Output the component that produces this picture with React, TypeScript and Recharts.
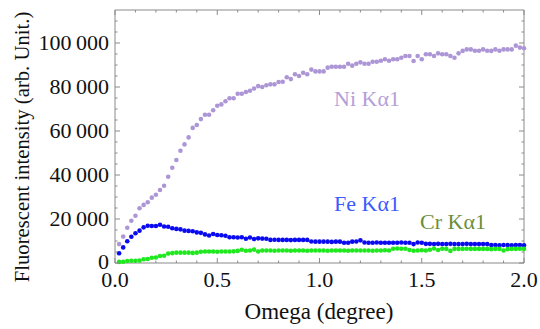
import { ScatterChart, Scatter, XAxis, YAxis } from 'recharts'

// sample positions (degree)
const omega = [
  0.02, 0.04, 0.06, 0.08, 0.1, 0.12, 0.14, 0.16, 0.18, 0.2,
  0.22, 0.24, 0.26, 0.28, 0.3, 0.32, 0.34, 0.36, 0.38, 0.4,
  0.42, 0.44, 0.46, 0.48, 0.5, 0.52, 0.54, 0.56, 0.58, 0.6,
  0.62, 0.64, 0.66, 0.68, 0.7, 0.72, 0.74, 0.76, 0.78, 0.8,
  0.82, 0.84, 0.86, 0.88, 0.9, 0.92, 0.94, 0.96, 0.98, 1.0,
  1.02, 1.04, 1.06, 1.08, 1.1, 1.12, 1.14, 1.16, 1.18, 1.2,
  1.22, 1.24, 1.26, 1.28, 1.3, 1.32, 1.34, 1.36, 1.38, 1.4,
  1.42, 1.44, 1.46, 1.48, 1.5, 1.52, 1.54, 1.56, 1.58, 1.6,
  1.62, 1.64, 1.66, 1.68, 1.7, 1.72, 1.74, 1.76, 1.78, 1.8,
  1.82, 1.84, 1.86, 1.88, 1.9, 1.92, 1.94, 1.96, 1.98, 2.0,
]

const niKa1 = [
  8600, 12000, 16000, 19200, 21500, 24900, 26400, 27600, 29700, 31000,
  33200, 35100, 39200, 43300, 46800, 51000, 53900, 57100, 61400, 62700,
  65400, 67400, 67400, 69400, 71500, 72100, 73500, 74900, 74900, 76900,
  76900, 77700, 78300, 79300, 80400, 80000, 80800, 81200, 81200, 82300,
  82400, 84400, 83600, 85800, 85000, 86500, 85800, 87900, 87100, 87100,
  87100, 88800, 89200, 89200, 89200, 89200, 90600, 89700, 90600, 91200,
  90600, 90600, 91500, 91500, 91900, 92600, 91900, 92600, 92600, 93300,
  94100, 94100, 91800, 94100, 92600, 94900, 94900, 94100, 95300, 94900,
  94900, 94100, 93300, 95300, 96400, 97100, 97100, 96500, 96500, 97100,
  96500, 96400, 97100, 96500, 97100, 97100, 97100, 98800, 97900, 97600,
]

const feKa1 = [
  4400, 7100, 9900, 11900, 13500, 14700, 16200, 16900, 16800, 16800,
  17400, 16600, 16500, 15800, 15500, 15300, 14700, 14600, 14400, 13900,
  13700, 13000, 12500, 13200, 12700, 12600, 12400, 11700, 11700, 11600,
  11700, 11000, 11600, 10900, 11200, 11100, 11000, 10500, 10600, 10500,
  10500, 10500, 10400, 10500, 10500, 10500, 10500, 9800, 9700, 9700,
  9700, 9700, 9600, 9700, 9700, 9200, 9200, 9700, 9800, 10300,
  9300, 9200, 9200, 9300, 9200, 9200, 9200, 9200, 9200, 9300,
  9200, 9200, 8600, 9300, 9200, 8700, 8700, 8600, 8700, 8600,
  8600, 8700, 8600, 8600, 8600, 8700, 8600, 8600, 8600, 8600,
  8600, 8200, 8200, 8100, 8200, 8200, 8100, 8200, 8200, 8100,
]

const crKa1 = [
  500, 600, 900, 1000, 1000, 1100, 1700, 1800, 2400, 2500,
  3200, 3300, 4300, 4500, 4700, 4700, 4700, 4700, 4600, 4700,
  5100, 5200, 5200, 5200, 5100, 5200, 5200, 5200, 5300, 5500,
  6000, 5600, 5700, 6100, 5200, 5700, 5700, 5700, 5600, 5700,
  5700, 5700, 5600, 5700, 5700, 5700, 5600, 5700, 5700, 5700,
  5700, 5600, 5700, 5700, 5700, 5700, 5600, 5700, 5700, 5700,
  5700, 5700, 5600, 5700, 5700, 5800, 5700, 6500, 6600, 6500,
  6500, 5900, 5600, 5700, 5800, 5700, 6000, 6600, 5900, 6500,
  6400, 5500, 6400, 6400, 6400, 6500, 6400, 6400, 6400, 6400,
  6400, 6300, 6400, 6400, 5700, 6300, 6400, 6400, 6500, 6400,
]

const xTicks = [0, 0.1, 0.2, 0.3, 0.4, 0.5, 0.6, 0.7, 0.8, 0.9, 1.0, 1.1, 1.2, 1.3, 1.4, 1.5, 1.6, 1.7, 1.8, 1.9, 2.0]
const xMajor = [0, 0.5, 1.0, 1.5, 2.0]
const yTicks = [
  0, 5000, 10000, 15000, 20000, 25000, 30000, 35000, 40000, 45000, 50000, 55000,
  60000, 65000, 70000, 75000, 80000, 85000, 90000, 95000, 100000, 105000, 110000,
]
const yMajor = [0, 20000, 40000, 60000, 80000, 100000]

const toPoints = (ys: number[]) => omega.map((x, i) => ({ x, y: ys[i] }))

const FONT = 'Liberation Serif, DejaVu Serif, serif'
const FRAME = '#8a8a8a'

const fmtY = (v: number) => (v === 0 ? '0' : `${Math.round(v / 1000)}\u2009000`)

function FrameTick({ x, y, payload, side }: any) {
  const v = payload.value
  const major = side === 'bottom' || side === 'top' ? xMajor.includes(v) : yMajor.includes(v)
  const len = major ? 5 : 2.5
  let line
  if (side === 'bottom') line = <line x1={x} x2={x} y1={y} y2={y - len} stroke={FRAME} />
  else if (side === 'top') line = <line x1={x} x2={x} y1={y} y2={y + len} stroke={FRAME} />
  else if (side === 'left') line = <line x1={x} x2={x + len} y1={y} y2={y} stroke={FRAME} />
  else line = <line x1={x} x2={x - len} y1={y} y2={y} stroke={FRAME} />
  return (
    <g>
      {line}
      {major && side === 'bottom' && (
        <text x={x} y={y + 24} textAnchor="middle" fontFamily={FONT} fontSize={22} fill="#111">{v.toFixed(1)}</text>
      )}
      {major && side === 'left' && (
        <text x={x - 6} y={y + (v === 0 ? 6 : 7)} textAnchor="end" fontFamily={FONT} fontSize={22} fill="#111">{fmtY(v)}</text>
      )}
    </g>
  )
}

const dot = (color: string) => (p: any) => <circle cx={p.cx} cy={p.cy} r={2.3} fill={color} />

export default function App() {
  return (
    <div style={{ position: 'absolute', left: 0, top: 0, width: 540, height: 329, background: '#fff' }}>
      <ScatterChart width={540} height={329} margin={{ top: 0, right: 0, bottom: 0, left: 0 }}>
        <XAxis xAxisId="b" type="number" dataKey="x" domain={[0, 2]} ticks={xTicks} interval={0}
          height={66} tickSize={0} tickMargin={0} tickLine={false} axisLine={{ stroke: FRAME }}
          tick={(p: any) => <FrameTick {...p} side="bottom" />} />
        <XAxis xAxisId="t" orientation="top" type="number" dataKey="x" domain={[0, 2]} ticks={xTicks} interval={0}
          height={10} tickSize={0} tickMargin={0} tickLine={false} axisLine={{ stroke: FRAME }}
          tick={(p: any) => <FrameTick {...p} side="top" />} />
        <YAxis yAxisId="l" type="number" dataKey="y" domain={[0, 115000]} ticks={yTicks} interval={0}
          width={115} tickSize={0} tickMargin={0} tickLine={false} axisLine={{ stroke: FRAME }}
          tick={(p: any) => <FrameTick {...p} side="left" />} />
        <YAxis yAxisId="r" orientation="right" type="number" dataKey="y" domain={[0, 115000]} ticks={yTicks} interval={0}
          width={16} tickSize={0} tickMargin={0} tickLine={false} axisLine={{ stroke: FRAME }}
          tick={(p: any) => <FrameTick {...p} side="right" />} />
        <Scatter name="Ni Kα1" data={toPoints(niKa1)} xAxisId="b" yAxisId="l" isAnimationActive={false} shape={dot('#ad96d6')} />
        <Scatter name="Fe Kα1" data={toPoints(feKa1)} xAxisId="b" yAxisId="l" isAnimationActive={false} shape={dot('#0a0af0')} />
        <Scatter name="Cr Kα1" data={toPoints(crKa1)} xAxisId="b" yAxisId="l" isAnimationActive={false} shape={dot('#1fe81f')} />
        <Scatter data={toPoints(niKa1)} xAxisId="t" yAxisId="r" isAnimationActive={false} shape={() => <g />} />
        <text x={319} y={319} textAnchor="middle" fontFamily={FONT} fontSize={23} fill="#111">Omega (degree)</text>
        <text x={29} y={147} textAnchor="middle" fontFamily={FONT} fontSize={20.7} fill="#111"
          transform="rotate(-90, 29, 147)">Fluorescent intensity (arb. Unit.)</text>
        <text x={367} y={106} textAnchor="middle" fontFamily={FONT} fontSize={22} fill="#b39fd9">Ni Kα1</text>
        <text x={367} y={211} textAnchor="middle" fontFamily={FONT} fontSize={22} fill="#3a5cff">Fe Kα1</text>
        <text x={453} y={229} textAnchor="middle" fontFamily={FONT} fontSize={22} fill="#6b8e3a">Cr Kα1</text>
      </ScatterChart>
    </div>
  )
}
